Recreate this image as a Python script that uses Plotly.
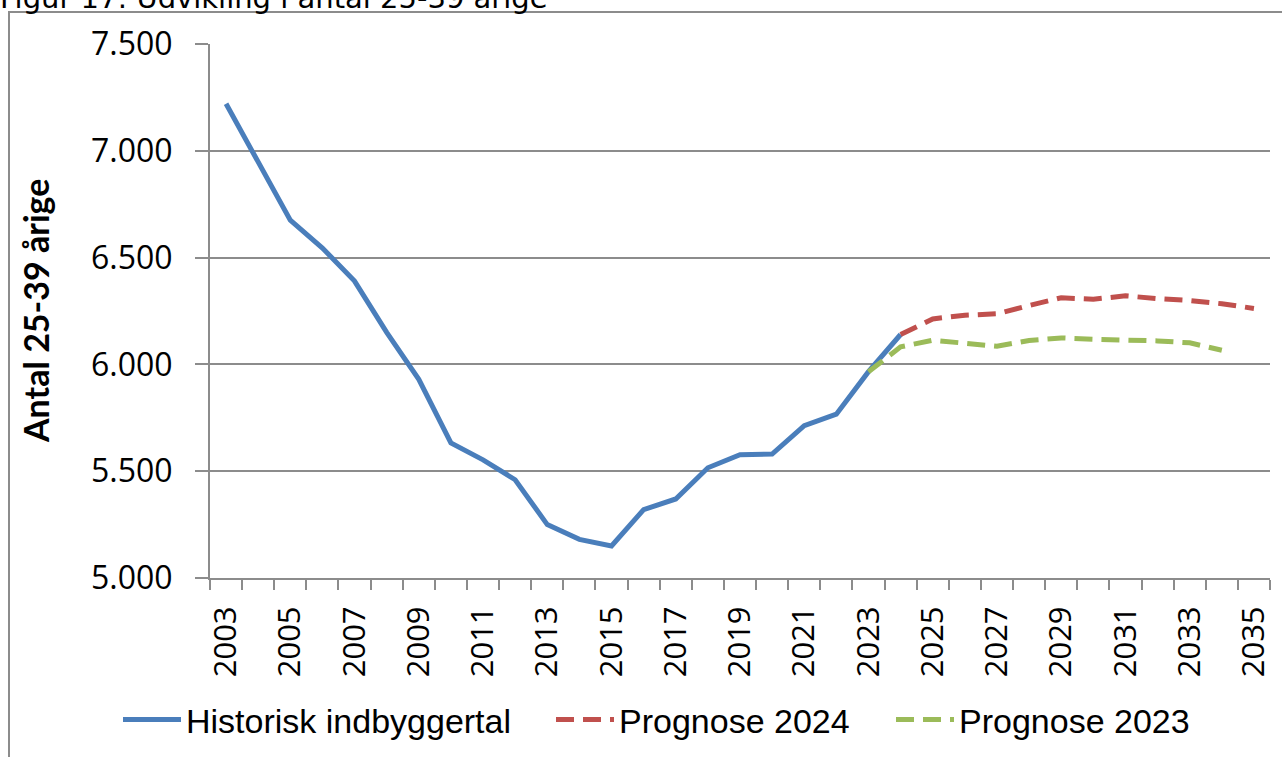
import plotly.graph_objects as go

years_hist = list(range(2003, 2025))
hist = [7220, 6945, 6675, 6545, 6390, 6150, 5930, 5632, 5553, 5460, 5250,
        5181, 5150, 5320, 5370, 5516, 5577, 5580, 5713, 5767, 5966, 6140]
years_p24 = list(range(2024, 2036))
prog2024 = [6140, 6213, 6230, 6237, 6276, 6312, 6305, 6321, 6308, 6299, 6284, 6262]
years_p23 = list(range(2023, 2035))
prog2023 = [5966, 6082, 6113, 6097, 6085, 6112, 6124, 6118, 6115, 6110, 6101, 6066]

x_labels = [str(y) for y in range(2003, 2036, 2)]
y_vals = [5000, 5500, 6000, 6500, 7000, 7500]
y_labels = ["5.000", "5.500", "6.000", "6.500", "7.000", "7.500"]

title_text = "Figur 17: Udvikling i antal 25-39 årige"
y_title = "Antal 25-39 årige"

W, H = 1282, 757
L, R, T, B = 210, 12, 44, 179
pw, ph = W - L - R, H - T - B

def px(xp):
    return (xp - L) / pw

def py(yp):
    return (H - B - yp) / ph

grid = "#8c8c8c"
legfont = dict(family="Liberation Sans", size=34, color="black")

fig = go.Figure()
fig.add_trace(go.Scatter(x=years_hist, y=hist, mode="lines", name="Historisk indbyggertal",
                         line=dict(color="#4A7EBB", width=5), legend="legend"))
fig.add_trace(go.Scatter(x=years_p24, y=prog2024, mode="lines", name="Prognose 2024",
                         line=dict(color="#C0504D", width=5, dash="18px,9px"), legend="legend2"))
fig.add_trace(go.Scatter(x=years_p23, y=prog2023, mode="lines", name="Prognose 2023",
                         line=dict(color="#9BBB59", width=5, dash="18px,9px"), legend="legend3"))

def leg(xpix):
    return dict(orientation="h", x=px(xpix), xanchor="left", y=py(720), yanchor="middle",
                font=legfont, bgcolor="rgba(0,0,0,0)", itemwidth=58)

fig.update_layout(
    width=W, height=H,
    margin=dict(l=L, r=R, t=T, b=B, autoexpand=False),
    paper_bgcolor="white", plot_bgcolor="white",
    showlegend=True,
    legend=leg(118),
    legend2=leg(551),
    legend3=leg(891),
    xaxis=dict(range=[2002.5, 2035.5], tickmode="array",
               tickvals=list(range(2003, 2036, 2)), ticktext=x_labels,
               tickangle=-90, ticks="", showgrid=False, zeroline=False,
               showline=True, linecolor=grid, linewidth=2, automargin=False,
               tickfont=dict(family="Open Sans", size=31, color="black"),
               ticklabelstandoff=14,
               minor=dict(tickvals=[y + 0.5 for y in range(2002, 2036)], ticks="outside",
                          ticklen=10, tickcolor=grid, tickwidth=2, showgrid=False)),
    yaxis=dict(range=[5000, 7500], tickmode="array", tickvals=y_vals, ticktext=y_labels,
               ticks="outside", ticklen=13, tickcolor=grid, tickwidth=2,
               showgrid=True, gridcolor=grid, gridwidth=2, zeroline=False,
               showline=True, linecolor=grid, linewidth=2, automargin=False,
               tickfont=dict(family="Open Sans", size=32, color="black"),
               ticklabelstandoff=16),
)

fig.add_annotation(text=title_text, xref="paper", yref="paper", x=px(-2), y=py(17),
                   xanchor="left", yanchor="bottom", showarrow=False,
                   font=dict(family="DejaVu Sans", size=29, color="black"))
fig.add_annotation(text="<b>" + y_title + "</b>", xref="paper", yref="paper", x=px(35), y=0.5,
                   xanchor="center", yanchor="middle", textangle=-90, showarrow=False,
                   font=dict(family="Lato", size=34, color="black"))
fig.add_shape(type="rect", xref="paper", yref="paper", x0=px(9), x1=px(1300), y0=py(800), y1=py(12),
              line=dict(color="#8c8c8c", width=2), fillcolor="rgba(0,0,0,0)", layer="below")

fig.write_html("out.html", config={"displayModeBar": False},
               post_script="document.body.style.margin='0';document.body.style.overflow='hidden';")
